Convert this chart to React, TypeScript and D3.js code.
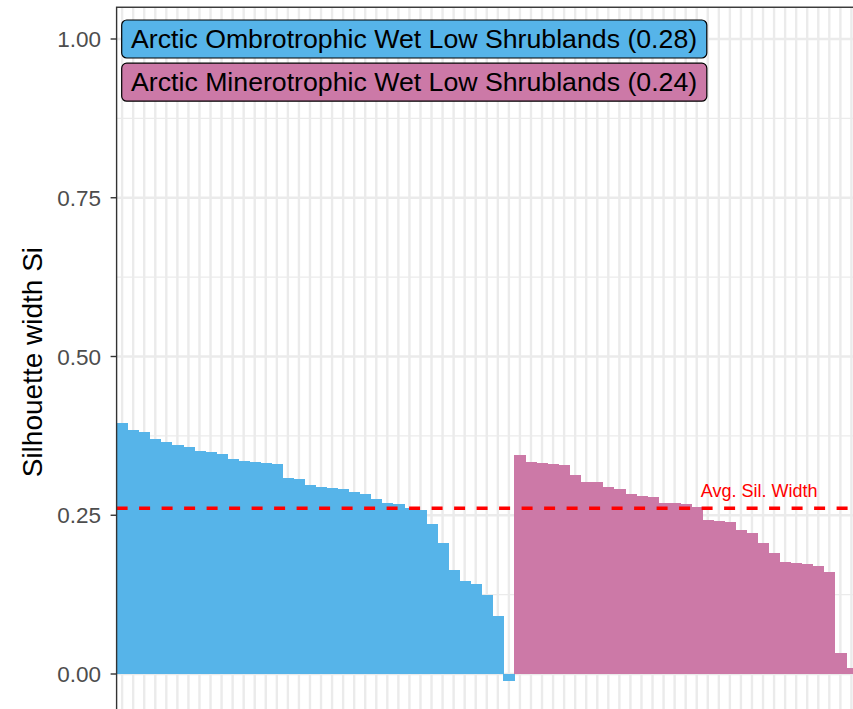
import React, { useEffect, useRef } from 'react';
import * as d3 from 'd3';

// silhouette widths per plot, sorted within each cluster
const ombrotrophic = [
  0.395, 0.384, 0.381, 0.370, 0.366, 0.360, 0.358, 0.351, 0.349, 0.347,
  0.339, 0.336, 0.334, 0.332, 0.330, 0.309, 0.307, 0.298, 0.295, 0.293,
  0.291, 0.287, 0.284, 0.275, 0.270, 0.268, 0.261, 0.259, 0.237, 0.206,
  0.163, 0.147, 0.142, 0.125, 0.092, -0.011
];
const minerotrophic = [
  0.345, 0.334, 0.332, 0.331, 0.329, 0.314, 0.303, 0.302, 0.294, 0.292,
  0.2835, 0.281, 0.279, 0.270, 0.269, 0.268, 0.2635, 0.2425, 0.2415, 0.240,
  0.227, 0.2225, 0.207, 0.191, 0.176, 0.175, 0.174, 0.170, 0.160, 0.033,
  0.010
];
const groupNames = [
  "Arctic Ombrotrophic Wet Low Shrublands",
  "Arctic Minerotrophic Wet Low Shrublands"
];
const groupColors = ["#56B4E9", "#CC79A7"];
const labelY = [1.0, 0.932];
const yTicks = [0, 0.25, 0.5, 0.75, 1.0];
const yMinor = [0.125, 0.375, 0.625, 0.875];
const avgSilWidth = 0.261;

const WIDTH = 853;
const HEIGHT = 709;

const SilhouettePlot = () => {
  const svgRef = useRef<SVGSVGElement>(null);

  useEffect(() => {
    document.body.style.margin = "0";
    const svg = d3.select(svgRef.current);
    svg.selectAll("*").remove();

    const data = [
      ...ombrotrophic.map(v => ({ value: v, group: 0 })),
      ...minerotrophic.map(v => ({ value: v, group: 1 }))
    ].map((d, i) => ({ ...d, id: i }));

    const panelLeft = 116.6;
    const step = 11.05;
    const panelRight = panelLeft + data.length * step;

    const xScale = d3.scaleBand<number>()
      .domain(data.map(d => d.id))
      .range([panelLeft, panelRight])
      .padding(0);

    const yScale = d3.scaleLinear().domain([0, 1]).range([674, 39]);
    const panelTop = yScale(1.05);
    const panelBottom = 717;

    const font = "'Liberation Sans', Arial, Helvetica, sans-serif";
    const grid = "#EBEBEB";

    // minor horizontal grid
    svg.append("g").selectAll("line")
      .data(yMinor)
      .enter().append("line")
      .attr("x1", panelLeft).attr("x2", panelRight)
      .attr("y1", d => yScale(d)).attr("y2", d => yScale(d))
      .attr("stroke", grid).attr("stroke-width", 1.4);

    // major horizontal grid
    svg.append("g").selectAll("line")
      .data(yTicks)
      .enter().append("line")
      .attr("x1", panelLeft).attr("x2", panelRight)
      .attr("y1", d => yScale(d)).attr("y2", d => yScale(d))
      .attr("stroke", grid).attr("stroke-width", 2.7);

    // vertical grid at each plot
    svg.append("g").selectAll("line")
      .data(data)
      .enter().append("line")
      .attr("x1", d => xScale(d.id)! + xScale.bandwidth() / 2)
      .attr("x2", d => xScale(d.id)! + xScale.bandwidth() / 2)
      .attr("y1", panelTop).attr("y2", panelBottom)
      .attr("stroke", grid).attr("stroke-width", 2.4);

    // bars
    svg.append("g")
      .attr("shape-rendering", "crispEdges")
      .selectAll("rect")
      .data(data)
      .enter().append("rect")
      .attr("x", d => xScale(d.id)!)
      .attr("width", xScale.bandwidth() + 0.6)
      .attr("y", d => Math.min(yScale(d.value), yScale(0)))
      .attr("height", d => Math.abs(yScale(d.value) - yScale(0)))
      .attr("fill", d => groupColors[d.group]);

    // average silhouette width line
    svg.append("line")
      .attr("x1", panelLeft).attr("x2", panelRight)
      .attr("y1", yScale(avgSilWidth)).attr("y2", yScale(avgSilWidth))
      .attr("stroke", "#FF0000")
      .attr("stroke-width", 3.6)
      .attr("stroke-dasharray", "11,11.5");

    svg.append("text")
      .attr("x", xScale(53)! - 1.5)
      .attr("y", yScale(avgSilWidth) - 11.5)
      .attr("font-family", font)
      .attr("font-size", 18)
      .attr("fill", "#FF0000")
      .text("Avg. Sil. Width");

    // cluster labels
    const fs = 26.7;
    groupNames.forEach((name, i) => {
      const mean = d3.mean(i === 0 ? ombrotrophic : minerotrophic)!;
      const cy = yScale(labelY[i]);
      const g = svg.append("g");
      const rect = g.append("rect");
      const txt = g.append("text")
        .attr("x", 131)
        .attr("y", cy + 0.32 * fs)
        .attr("font-family", font)
        .attr("font-size", fs)
        .attr("fill", "#000")
        .text(`${name} (${d3.format(".2f")(mean)})`);
      const w = (txt.node() as SVGTextElement).getComputedTextLength();
      rect
        .attr("x", 121.7)
        .attr("y", cy - 19)
        .attr("width", w + 2 * 9.5)
        .attr("height", 38)
        .attr("rx", 5).attr("ry", 5)
        .attr("fill", groupColors[i])
        .attr("stroke", "#000")
        .attr("stroke-width", 1.2);
    });

    // panel border
    svg.append("rect")
      .attr("x", panelLeft).attr("y", panelTop)
      .attr("width", panelRight - panelLeft)
      .attr("height", panelBottom - panelTop)
      .attr("fill", "none")
      .attr("stroke", "#333333")
      .attr("stroke-width", 1.4);

    // y axis ticks and labels
    const axis = svg.append("g");
    axis.selectAll("line")
      .data(yTicks)
      .enter().append("line")
      .attr("x1", panelLeft - 6).attr("x2", panelLeft)
      .attr("y1", d => yScale(d)).attr("y2", d => yScale(d))
      .attr("stroke", "#333333").attr("stroke-width", 1.4);
    axis.selectAll("text")
      .data(yTicks)
      .enter().append("text")
      .attr("x", panelLeft - 15.5)
      .attr("y", d => yScale(d) + 8)
      .attr("text-anchor", "end")
      .attr("font-family", font)
      .attr("font-size", 22.5)
      .attr("fill", "#4D4D4D")
      .text(d => d3.format(".2f")(d));

    svg.append("text")
      .attr("transform", `translate(42, ${(panelTop + panelBottom) / 2}) rotate(-90)`)
      .attr("text-anchor", "middle")
      .attr("font-family", font)
      .attr("font-size", 28)
      .attr("fill", "#000")
      .text("Silhouette width Si");
  }, []);

  return (
    <svg
      ref={svgRef}
      width={WIDTH}
      height={HEIGHT}
      style={{ display: 'block', background: '#fff' }}
    ></svg>
  );
};

export default function App() {
  return <SilhouettePlot />;
}
